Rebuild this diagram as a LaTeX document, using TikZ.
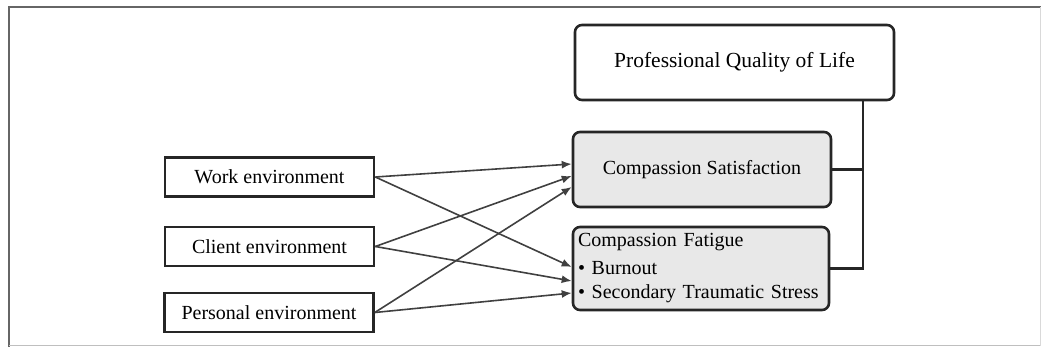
\documentclass[tikz,border=0pt]{standalone}
\usepackage{fontspec}
\setmainfont{Liberation Serif}
\usetikzlibrary{arrows.meta}

\begin{document}
\begin{tikzpicture}[x=1pt, y=-1pt,
		envbox/.style={draw=black!85, line width=2.6pt, minimum width=209pt, minimum height=39pt, inner sep=0pt, font=\fontsize{20}{24}\selectfont},
		qolbox/.style={draw=black!85, line width=2.6pt, rounded corners=7pt, fill=black!9, inner sep=0pt, font=\fontsize{20}{24}\selectfont},
		link/.style={draw=black!75, line width=1.6pt, -{Latex[length=10pt,width=8pt]}},
		joinline/.style={draw=black!85, line width=2.4pt}]
		\useasboundingbox (0,0) rectangle (1041,347);
		\draw[black!60, line width=2pt] (9,347) -- (9,7) -- (1041,7);
		\draw[black!25, line width=1pt] (9,345.5) -- (1041,345.5);
		\draw[black!15, line width=1pt] (1040,7) -- (1040,345.5);
		\node[envbox] (work) at (269.5,177) {Work environment};
		\node[envbox] (client) at (269.5,246.5) {Client environment};
		\node[envbox] (personal) at (269,312.5) {Personal environment};
		\node[qolbox, fill=white, minimum width=319pt, minimum height=75pt, font=\fontsize{21.5}{26}\selectfont] (pql) at (734.5,62.5) {Professional Quality of Life};
		\node[qolbox, minimum width=258pt, minimum height=75pt] (cs) at (702,169.5) {Compassion Satisfaction};
		\node[qolbox, minimum width=256pt, minimum height=83pt, text width=246pt, align=left, inner xsep=5pt] (cf) at (701,268.5) {Compassion Fatigue\\[4pt]\textbullet~Burnout\\\textbullet~Secondary Traumatic Stress};
		\draw[link] (work.east) -- ([yshift=5.5pt]cs.west);
		\draw[link] (client.east) -- ([yshift=-6.5pt]cs.west);
		\draw[link] (personal.east) -- ([yshift=-17.5pt]cs.west);
		\draw[link] (work.east) -- ([yshift=1.5pt]cf.west);
		\draw[link] (client.east) -- ([yshift=-12.5pt]cf.west);
		\draw[link] (personal.east) -- ([yshift=-24.5pt]cf.west);
		\coordinate (spine) at (863,0);
		\draw[joinline] (pql.south -| spine) -- (spine |- cf.east) -- (cf.east);
		\draw[joinline] (cs.east) -- (cs.east -| spine);
	\end{tikzpicture}
\end{document}
